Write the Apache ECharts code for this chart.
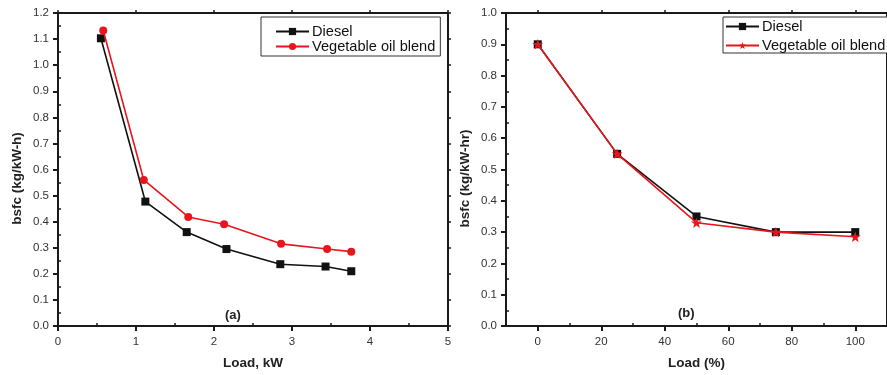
<!DOCTYPE html>
<html><head><meta charset="utf-8">
<script src="https://cdn.jsdelivr.net/npm/echarts@6/dist/echarts.min.js"></script>
<style>html,body{margin:0;padding:0;background:#fff}#c{width:887px;height:375px}</style>
</head><body><div id="c"></div>
<script>
// Panel (a)
const aDieselLoad = [0.55, 1.12, 1.65, 2.16, 2.85, 3.43, 3.76];
const aDieselBsfc = [1.103, 0.477, 0.36, 0.295, 0.237, 0.228, 0.21];
const aVegLoad = [0.58, 1.10, 1.67, 2.13, 2.86, 3.45, 3.76];
const aVegBsfc = [1.133, 0.56, 0.418, 0.39, 0.315, 0.295, 0.285];
// Panel (b)
const bLoad = [0, 25, 50, 75, 100];
const bDieselBsfc = [0.9, 0.55, 0.35, 0.30, 0.30];
const bVegBsfc = [0.9, 0.55, 0.33, 0.30, 0.285];
const bXTicks = [0, 20, 40, 60, 80, 100];
const bXMinor = [10, 30, 50, 70, 90];
const seriesNames = ['Diesel', 'Vegetable oil blend'];

const pairs = (xs, ys) => xs.map((x, i) => [x, ys[i]]);
const STAR = 'path://M100,0L123.5,67.6L195.1,69.1L138,112.4L158.8,180.9L100,140L41.2,180.9L62,112.4L4.9,69.1L76.5,67.6Z';
const FONT = 'Liberation Sans, Arial, sans-serif';
const AX = '#1a1a1a', TXT = '#333', RED = '#e8151c', BLK = '#111';

const lbl = {fontFamily: FONT, fontSize: 11.5, color: TXT};
const nameStyle = {fontFamily: FONT, fontSize: 13.5, fontWeight: 'bold', color: '#222'};
const line = {show: true, onZero: false, lineStyle: {color: AX, width: 2}};
const noLine = {show: false, onZero: false};

function xAxes(grid, o) {
  return [
    Object.assign({type: 'value', gridIndex: grid, position: 'bottom', axisLine: line,
      splitLine: {show: false}, axisTick: {show: true, length: 5, lineStyle: {color: AX, width: 2}},
      axisLabel: Object.assign({margin: 10}, lbl), nameLocation: 'middle', nameGap: 30, nameTextStyle: nameStyle}, o.main),
    Object.assign({type: 'value', gridIndex: grid, position: 'bottom', axisLine: noLine,
      splitLine: {show: false}, axisTick: {show: false, inside: true}, axisLabel: {show: false},
      minorTick: {show: true, splitNumber: 2, length: 3, lineStyle: {color: AX, width: 1.5}}}, o.minor),
    Object.assign({type: 'value', gridIndex: grid, position: 'top', axisLine: line,
      splitLine: {show: false}, axisTick: {show: true, length: 3, lineStyle: {color: AX, width: 1.5}},
      axisLabel: {show: false}}, o.top)
  ];
}
function yAxes(grid, o) {
  return [
    Object.assign({type: 'value', gridIndex: grid, position: 'left', min: 0, interval: 0.1, axisLine: line,
      splitLine: {show: false}, axisTick: {show: true, length: 5, lineStyle: {color: AX, width: 2}},
      axisLabel: Object.assign({margin: 9, formatter: v => v.toFixed(1)}, lbl),
      nameLocation: 'middle', nameGap: 34, nameTextStyle: Object.assign({padding: [0, 18, 0, 0]}, nameStyle)}, o.main),
    Object.assign({type: 'value', gridIndex: grid, position: 'left', min: 0, interval: 0.1, axisLine: noLine,
      splitLine: {show: false}, axisTick: {show: false, inside: true}, axisLabel: {show: false},
      minorTick: {show: true, splitNumber: 2, length: 3, lineStyle: {color: AX, width: 1.5}}}, o.minor),
    Object.assign({type: 'value', gridIndex: grid, position: 'right', min: 0, interval: 0.1, axisLine: line,
      splitLine: {show: false}, axisTick: {show: true, length: 3, lineStyle: {color: AX, width: 1.5}},
      axisLabel: {show: false}}, o.right)
  ];
}

const xa = xAxes(0, {main: {min: 0, max: 5, interval: 1, name: 'Load, kW'}, minor: {min: 0, max: 5, interval: 1}, top: {min: 0, max: 5, interval: 1}});
const xb = xAxes(1, {
  main: {min: -10, max: 110, interval: 10, name: 'Load (%)', axisLabel: Object.assign({margin: 10, customValues: bXTicks}, lbl), axisTick: {show: true, length: 5, customValues: bXTicks, lineStyle: {color: AX, width: 2}}},
  minor: {min: -10, max: 110, interval: 10, axisTick: {show: true, inside: true, length: 3, customValues: bXMinor, lineStyle: {color: AX, width: 1.5}}, minorTick: {show: false}},
  top: {min: -10, max: 110, interval: 10, axisTick: {show: true, length: 3, customValues: bXTicks, lineStyle: {color: AX, width: 1.5}}}
});
const ya = yAxes(0, {main: {max: 1.2, name: 'bsfc (kg/kW-h)'}, minor: {max: 1.2}, right: {max: 1.2}});
const yb = yAxes(1, {main: {max: 1.0, name: 'bsfc (kg/kW-hr)'}, minor: {max: 1.0}, right: {max: 1.0}});

function mk(name, data, xi, yi, color, symbol, size) {
  return {type: 'line', name, data, xAxisIndex: xi, yAxisIndex: yi, symbol, symbolSize: size, symbolKeepAspect: true,
    lineStyle: {color, width: 1.6}, itemStyle: {color}, z: color === RED ? 3 : 2, animation: false};
}

const legendBase = {orient: 'vertical', itemWidth: 33, itemHeight: 9, borderColor: '#333', borderWidth: 1,
  borderRadius: 0, backgroundColor: '#fff', textStyle: {fontFamily: FONT, fontSize: 14.6, lineHeight: 13, color: '#111', padding: [0, 0, 0, -2]}};

const chart = echarts.init(document.getElementById('c'), null, {renderer: 'canvas'});
chart.setOption({
  animation: false,
  backgroundColor: '#fff',
  grid: [
    {left: 58, top: 13, width: 390, height: 314},
    {left: 506, top: 13, width: 387, height: 314}
  ],
  xAxis: xa.concat(xb),
  yAxis: ya.concat(yb),
  legend: [
    Object.assign({}, legendBase, {left: 261, top: 17, itemGap: 0, padding: [7, 5, 2, 14], data: [seriesNames[0], seriesNames[1]]}),
    Object.assign({}, legendBase, {left: 723, top: 17, itemGap: 4, padding: [2, 5, 0, 2], data: [seriesNames[0] + ' ', seriesNames[1] + ' ']})
  ],
  graphic: [
    {type: 'text', left: 225, top: 309, style: {text: '(a)', font: 'bold 13px ' + FONT, fill: '#222'}},
    {type: 'text', left: 678, top: 307, style: {text: '(b)', font: 'bold 13px ' + FONT, fill: '#222'}}
  ],
  series: [
    mk(seriesNames[0], pairs(aDieselLoad, aDieselBsfc), 0, 0, BLK, 'rect', 8),
    mk(seriesNames[1], pairs(aVegLoad, aVegBsfc), 0, 0, RED, 'circle', 8),
    mk(seriesNames[0] + ' ', pairs(bLoad, bDieselBsfc), 3, 3, BLK, 'rect', 8),
    mk(seriesNames[1] + ' ', pairs(bLoad, bVegBsfc), 3, 3, RED, STAR, 11)
  ]
});
</script></body></html>
